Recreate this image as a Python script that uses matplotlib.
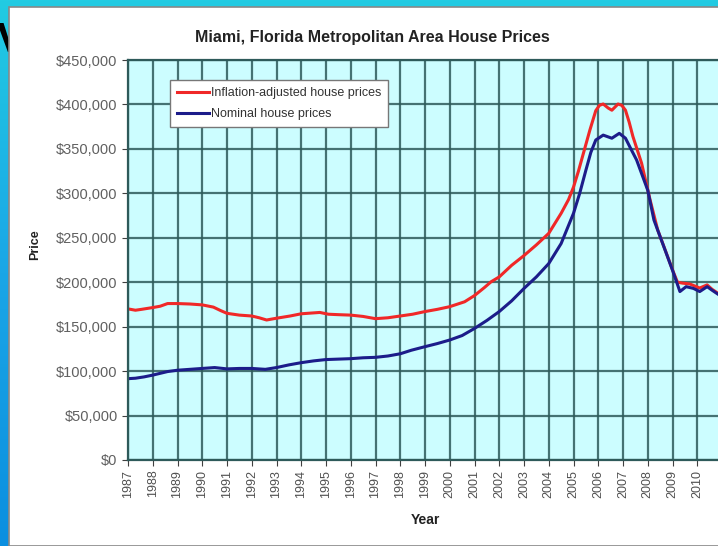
import matplotlib.pyplot as plt
import numpy as np
from matplotlib.patches import Rectangle
from matplotlib.ticker import FuncFormatter

plt.rcParams['font.family'] = ['Liberation Sans', 'DejaVu Sans']

# inflation-adjusted prices, thousands of dollars
real_years = [1987.0, 1987.3, 1987.55, 1988.0, 1988.3, 1988.6, 1989.0, 1989.5, 1990.0, 1990.45,
              1990.75, 1991.0, 1991.5, 1992.0, 1992.3, 1992.6, 1993.0, 1993.55, 1994.0, 1994.75,
              1995.1, 1995.5, 1996.0, 1996.5, 1997.0, 1997.5, 1998.0, 1998.5, 1999.0, 1999.5,
              2000.0, 2000.6, 2001.0, 2001.4, 2001.67, 2002.0, 2002.5, 2003.0, 2003.5, 2004.0,
              2004.5, 2004.8, 2005.0, 2005.2, 2005.4, 2005.66, 2005.9, 2006.05, 2006.2, 2006.4,
              2006.55, 2006.8, 2006.95, 2007.1, 2007.25, 2007.4, 2007.75, 2008.1, 2008.4, 2008.8,
              2009.0, 2009.2, 2009.4, 2009.7, 2010.1, 2010.4, 2010.6, 2010.84]
real_price = [170, 168.5, 169.5, 171.5, 173, 176, 176, 175.5, 174.5, 172,
              168, 165, 163, 162, 160, 157.5, 159.5, 162, 164.5, 166,
              164, 163.5, 163, 161.5, 159, 160, 162, 164, 167, 169.5,
              172.5, 178, 185, 194, 200.5, 206, 219, 230, 242, 255,
              277.5, 293, 307, 325, 345, 371, 393, 399, 400.5, 396,
              393.5, 400.5, 399, 393.5, 380, 364, 334, 292, 259, 229,
              214, 200, 199, 198, 193.5, 197, 192, 187.5]

# nominal prices, thousands of dollars
nom_years = [1987.0, 1987.3, 1987.65, 1988.0, 1988.3, 1988.6, 1989.0, 1989.5, 1990.0, 1990.5,
             1991.0, 1991.5, 1992.0, 1992.55, 1993.0, 1993.5, 1994.0, 1994.5, 1995.0, 1995.5,
             1996.0, 1996.5, 1997.0, 1997.5, 1998.0, 1998.45, 1999.0, 1999.5, 2000.0, 2000.5,
             2001.0, 2001.5, 2002.0, 2002.5, 2003.0, 2003.5, 2004.0, 2004.5, 2005.0, 2005.25,
             2005.5, 2005.7, 2005.9, 2006.2, 2006.55, 2006.85, 2007.1, 2007.3, 2007.55, 2008.0,
             2008.25, 2008.65, 2009.0, 2009.3, 2009.55, 2009.85, 2010.1, 2010.4, 2010.6, 2010.84]
nom_price = [91.5, 92, 93.5, 95.5, 97.5, 99.5, 101, 102, 103, 104,
             102.5, 103, 103, 102, 104, 107, 109.5, 111.5, 113, 113.5,
             114, 115, 115.5, 117, 119.5, 123.5, 127.5, 131, 135, 140,
             148, 157, 167, 179, 193, 206, 221, 243.5, 277.5, 300,
             326, 346, 360, 365.5, 362, 367.5, 362, 351, 337.5, 303.5,
             270, 240, 213.5, 189.5, 195, 193, 189.5, 195, 191, 186.5]

year_ticks = list(range(1987, 2011))
price_ticks = list(range(0, 450001, 50000))

fig = plt.figure(figsize=(7.18, 5.46), dpi=100)

# slide background behind the chart
bg = fig.add_axes([0, 0, 1, 1], zorder=-2)
grad = np.linspace(0, 1, 256).reshape(-1, 1)
bg.imshow(grad, aspect='auto', cmap=plt.matplotlib.colors.LinearSegmentedColormap.from_list(
    'slide', ['#22cbe2', '#1aa6e6', '#0b8fe0']), extent=[0, 1, 0, 1])
bg.set_axis_off()
fig.text(-0.004, 0.905, "V", fontsize=30, weight='bold', color='black', zorder=-1)
fig.patches.append(Rectangle((9 / 718, 0), 1, 1 - 7 / 546, transform=fig.transFigure,
                             facecolor='white', edgecolor='#888888', lw=1.2, zorder=0))

ax = fig.add_axes([128 / 718, 86 / 546, 594 / 718, 400 / 546], zorder=2)
ax.set_facecolor('#ccfdff')
ax.plot(real_years, [v * 1000 for v in real_price], color='#f02828', lw=2.2,
        label='Inflation-adjusted house prices')
ax.plot(nom_years, [v * 1000 for v in nom_price], color='#1c1c8a', lw=2.2,
        label='Nominal house prices')

ax.set_xlim(1987, 2011)
ax.set_ylim(0, 450000)
ax.set_xticks(year_ticks)
ax.set_xticklabels([str(y) for y in year_ticks], rotation=90, fontsize=9, color='#505050')
ax.set_yticks(price_ticks)
ax.yaxis.set_major_formatter(FuncFormatter(lambda v, p: f"${int(v):,}"))
ax.tick_params(axis='y', labelsize=10.5, labelcolor='#606060', length=4, color='#404040')
ax.tick_params(axis='x', length=4, color='#404040', pad=3)
ax.grid(True, color='#2e5a5a', lw=1.6, alpha=0.85)
ax.set_axisbelow(True)
for s in ax.spines.values():
    s.set_color('#2e5a5a')
    s.set_linewidth(1.6)

fig.text(0.518, 0.932, "Miami, Florida Metropolitan Area House Prices",
         ha='center', va='center', fontsize=11.5, weight='bold', color='#222222')
fig.text(0.049, 0.551, "Price", rotation=90, ha='center', va='center',
         fontsize=9, weight='bold', color='#222222')
fig.text(0.592, 0.048, "Year", ha='center', va='center',
         fontsize=10, weight='bold', color='#222222')

leg = ax.legend(loc='upper left', bbox_to_anchor=(170 / 718, 1 - 80 / 546),
                bbox_transform=fig.transFigure, borderaxespad=0, fontsize=9,
                handlelength=2.6, handletextpad=0.1, fancybox=False, framealpha=1,
                edgecolor='#777777', borderpad=0.55, labelspacing=0.75)
leg.get_frame().set_linewidth(1.0)
for t in leg.get_texts():
    t.set_color('#333333')

fig.savefig('out.png', dpi=100)
